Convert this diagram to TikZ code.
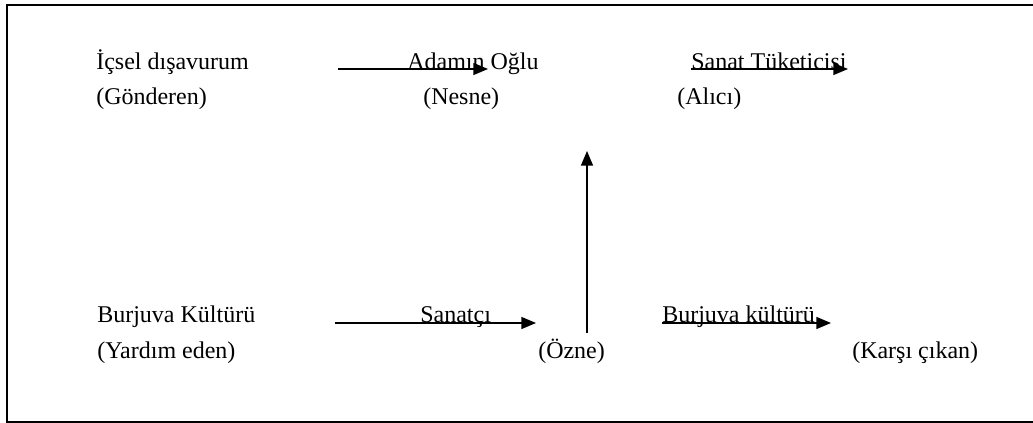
\documentclass[tikz,border=0pt]{standalone}
\usepackage{fontspec}
\setmainfont{Liberation Serif}
\usetikzlibrary{arrows.meta}
\begin{document}
\begin{tikzpicture}[x=0.75pt,y=-0.75pt,
  lbl/.style={anchor=base west,inner sep=0pt,font=\fontsize{18pt}{21pt}\selectfont},
  arr/.style={line width=1.1pt,-{Triangle[length=11pt,width=9pt]}},
  frame/.style={line width=1.4pt}]
\useasboundingbox (0,0) rectangle (1033,423);
\begin{scope}
\clip (0,0) rectangle (1033,423);
\draw[frame] (7,5) rectangle (1045,422);
\end{scope}
% top row
\node[lbl] (gon) at (96,70) {İçsel dışavurum};
\node[lbl] (gonr) at (96,105) {(Gönderen)};
\node[lbl] (nes) at (407,70) {Adamın Oğlu};
\node[lbl] (nesr) at (423,105) {(Nesne)};
\node[lbl] (ali) at (691,70) {Sanat Tüketicisi};
\node[lbl] (alir) at (677,105) {(Alıcı)};
% bottom row
\node[lbl] (yar) at (97,323) {Burjuva Kültürü};
\node[lbl] (yarr) at (97,359) {(Yardım eden)};
\node[lbl] (ozn) at (420,323) {Sanatçı};
\node[lbl] (oznr) at (538,359) {(Özne)};
\node[lbl] (kar) at (662,323) {Burjuva kültürü};
\node[lbl] (karr) at (852,359) {(Karşı çıkan)};
% arrow ends
\coordinate (a1s) at (338,69);
\coordinate (a1e) at (488,69);
\coordinate (a2s) at (691,69);
\coordinate (a2e) at (848,69);
\coordinate (a3s) at (335,323);
\coordinate (a3e) at (536,323);
\coordinate (a4s) at (662,323);
\coordinate (a4e) at (831,323);
\coordinate (v1s) at (587,333);
\coordinate (v1e) at (587,151);
\draw[arr] (a1s) -- (a1e);
\draw[arr] (a2s) -- (a2e);
\draw[arr] (a3s) -- (a3e);
\draw[arr] (a4s) -- (a4e);
\draw[arr] (v1s) -- (v1e);
\end{tikzpicture}
\end{document}
